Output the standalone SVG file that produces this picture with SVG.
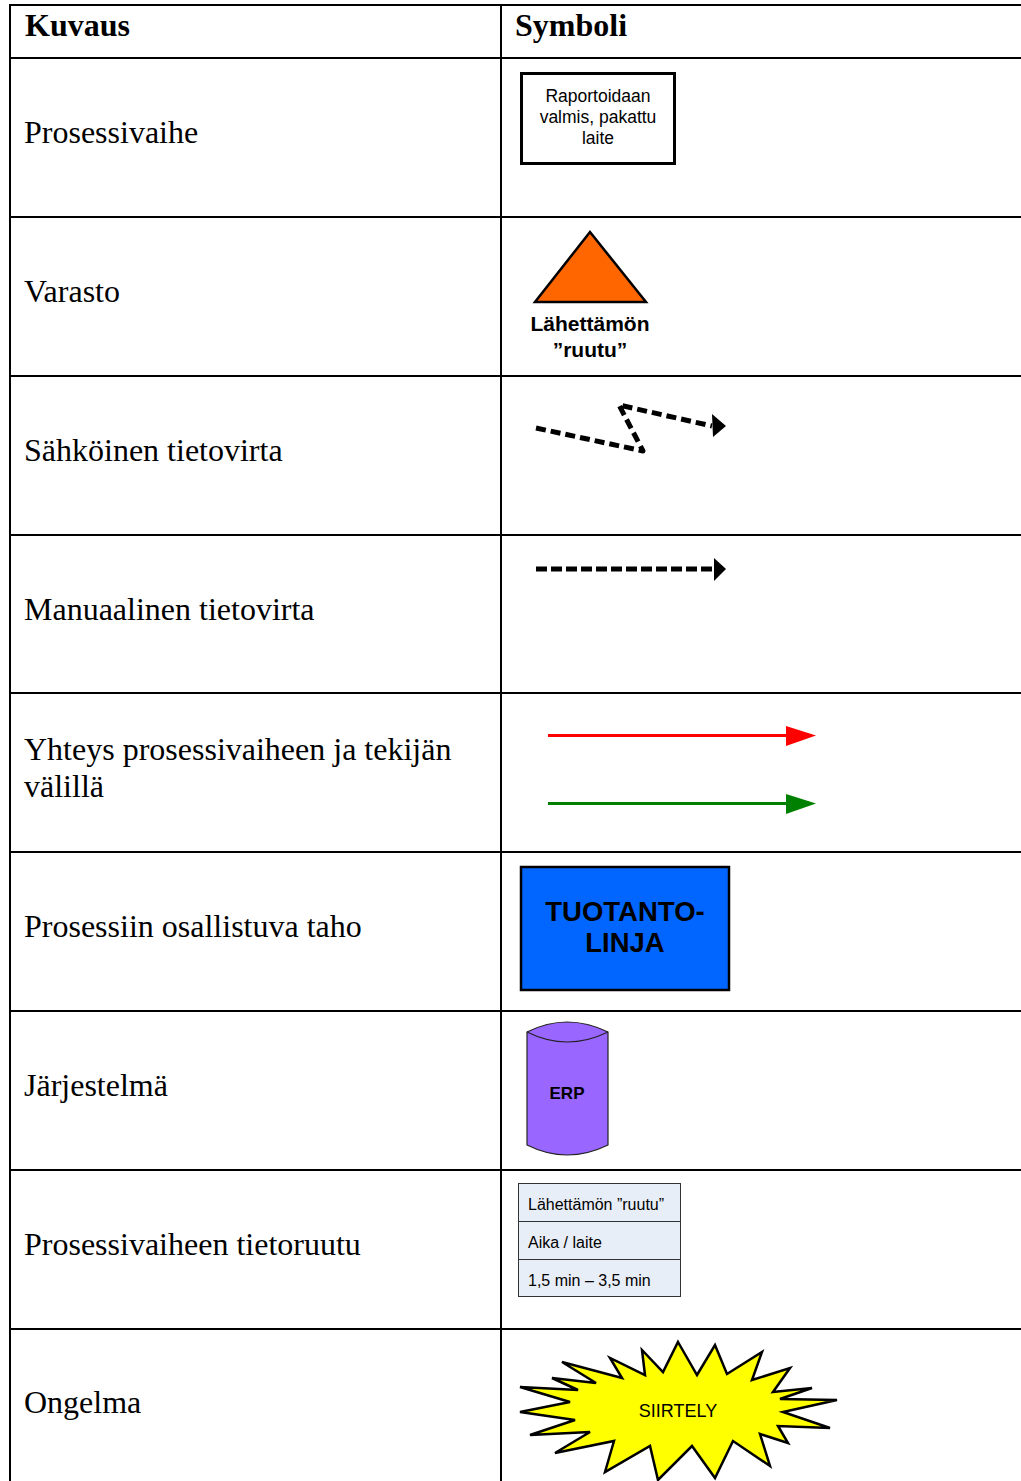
<svg xmlns="http://www.w3.org/2000/svg" width="1021" height="1481" viewBox="0 0 1021 1481">
<defs>
<style>
.grid{stroke:#000;stroke-width:2;fill:none}
.lbl{font-family:"Liberation Serif","Times New Roman",serif;font-size:32px;fill:#000}
.hdr{font-family:"Liberation Serif","Times New Roman",serif;font-size:32px;font-weight:bold;fill:#000}
.sans{font-family:"Liberation Sans",Arial,sans-serif;fill:#000}
</style>
</defs>
<rect x="0" y="0" width="1021" height="1481" fill="#fff"/>
<g id="table" class="grid">
<line x1="10" y1="5" x2="1021" y2="5"/>
<line x1="10" y1="58" x2="1021" y2="58"/>
<line x1="10" y1="217" x2="1021" y2="217"/>
<line x1="10" y1="376" x2="1021" y2="376"/>
<line x1="10" y1="535" x2="1021" y2="535"/>
<line x1="10" y1="693" x2="1021" y2="693"/>
<line x1="10" y1="852" x2="1021" y2="852"/>
<line x1="10" y1="1011" x2="1021" y2="1011"/>
<line x1="10" y1="1170" x2="1021" y2="1170"/>
<line x1="10" y1="1329" x2="1021" y2="1329"/>
<line x1="10" y1="4" x2="10" y2="1481"/>
<line x1="501" y1="4" x2="501" y2="1481"/>
</g>
<g id="labels">
<text class="hdr" x="25" y="36">Kuvaus</text>
<text class="hdr" x="515" y="36">Symboli</text>
<text class="lbl" x="24" y="143">Prosessivaihe</text>
<text class="lbl" x="24" y="302">Varasto</text>
<text class="lbl" x="24" y="461">Sähköinen tietovirta</text>
<text class="lbl" x="24" y="620">Manuaalinen tietovirta</text>
<text class="lbl" x="24" y="760">Yhteys prosessivaiheen ja tekijän</text>
<text class="lbl" x="24" y="797">välillä</text>
<text class="lbl" x="24" y="937">Prosessiin osallistuva taho</text>
<text class="lbl" x="24" y="1096">Järjestelmä</text>
<text class="lbl" x="24" y="1255">Prosessivaiheen tietoruutu</text>
<text class="lbl" x="24" y="1413">Ongelma</text>
</g>
<g id="process-step">
<rect x="521.5" y="73.5" width="153" height="90" fill="#fff" stroke="#000" stroke-width="3"/>
<text class="sans" font-size="17.5" text-anchor="middle"><tspan x="598" y="102">Raportoidaan</tspan><tspan x="598" y="123">valmis, pakattu</tspan><tspan x="598" y="144">laite</tspan></text>
</g>
<g id="storage">
<polygon points="590,232 646,302 535,302" fill="#ff6600" stroke="#000" stroke-width="2.5" stroke-linejoin="miter"/>
<text class="sans" font-size="21" font-weight="bold" text-anchor="middle"><tspan x="590" y="331">Lähettämön</tspan><tspan x="590" y="357">”ruutu”</tspan></text>
</g>
<g id="connectors">
<polyline points="536,428 643,451 619,405 712,426" fill="none" stroke="#000" stroke-width="5" stroke-dasharray="10,5" stroke-linejoin="round"/>
<polygon points="712,414 726,426 713,437" fill="#000"/>
<line x1="536" y1="569" x2="714" y2="569" stroke="#000" stroke-width="5" stroke-dasharray="11,4"/>
<polygon points="714,558 726,569 714,581" fill="#000"/>
<line x1="548" y1="735.5" x2="790" y2="735.5" stroke="#ff0000" stroke-width="3"/>
<polygon points="786,726 816,735.5 786,746" fill="#ff0000"/>
<line x1="548" y1="803.5" x2="790" y2="803.5" stroke="#008000" stroke-width="3"/>
<polygon points="786,794 816,803.5 786,814" fill="#008000"/>
</g>
<g id="party">
<rect x="521" y="867" width="208" height="123" fill="#0066ff" stroke="#000" stroke-width="2.5"/>
<text class="sans" font-size="27.5" font-weight="bold" text-anchor="middle"><tspan x="625" y="921">TUOTANTO-</tspan><tspan x="625" y="952">LINJA</tspan></text>
</g>
<g id="system">
<path d="M527,1032 Q567,1012 608,1032 L608,1145 Q567,1165 527,1145 Z" fill="#9966ff" stroke="#222" stroke-width="1.2"/>
<path d="M527,1032 Q567,1052 608,1032" fill="none" stroke="#222" stroke-width="1.2"/>
<text class="sans" font-size="17" font-weight="bold" text-anchor="middle" x="567" y="1099">ERP</text>
</g>
<g id="info-box">
<rect x="518.5" y="1183.5" width="162" height="113" fill="#e8eef7" stroke="#333" stroke-width="1"/>
<line x1="518.5" y1="1221.5" x2="680.5" y2="1221.5" stroke="#333" stroke-width="1"/>
<line x1="518.5" y1="1259.5" x2="680.5" y2="1259.5" stroke="#333" stroke-width="1"/>
<text class="sans" font-size="16" x="528" y="1210">Lähettämön ”ruutu”</text>
<text class="sans" font-size="16" x="528" y="1248">Aika / laite</text>
<text class="sans" font-size="16" x="528" y="1286">1,5 min – 3,5 min</text>
</g>
<g id="problem">
<polygon points="678,1342 697,1375 715,1345 727,1374 762,1352 752,1380 790,1368 773,1392 812,1388 780,1399 837,1400 783,1412 830,1428 778,1426 788,1443 760,1434 770,1466 733,1441 715,1478 692,1446 658,1480 650,1446 605,1472 614,1441 555,1453 590,1432 530,1435 575,1420 520,1412 570,1402 520,1387 578,1390 552,1378 596,1383 562,1362 622,1378 610,1358 645,1375 642,1350 663,1372" fill="#ffff00" stroke="#000" stroke-width="2.5" stroke-linejoin="miter"/>
<text class="sans" font-size="18" text-anchor="middle" x="678" y="1417">SIIRTELY</text>
</g>
</svg>
